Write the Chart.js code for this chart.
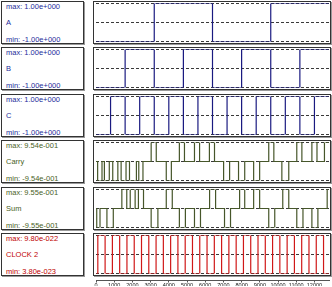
<!DOCTYPE html>
<html>
<head>
<meta charset="utf-8">
<script src="https://cdn.jsdelivr.net/npm/chart.js@4.4.0/dist/chart.umd.min.js"></script>
<style>
body{margin:0;background:#fff;width:332px;height:287px;overflow:hidden;position:relative;font-family:"Liberation Sans",Arial,sans-serif}
.lab{position:absolute;left:1px;width:81px;height:41px;border:1px solid #333;box-shadow:1px 1px 0 #999;background:#fff}
.lab span{position:absolute;left:4px;font-size:7.5px;line-height:8px;white-space:nowrap}
.box{position:absolute;left:93px;width:236px;height:41px;border:1px solid #333;box-shadow:1px 1px 0 #999;background:#fff}
canvas{position:absolute}
</style>
</head>
<body>
<script>
// panel text
const signalNames = ['A', 'B', 'C', 'Carry', 'Sum', 'CLOCK 2'];
const maxLabels = ['max: 1.00e+000', 'max: 1.00e+000', 'max: 1.00e+000', 'max: 9.54e-001', 'max: 9.55e-001', 'max: 9.80e-022'];
const minLabels = ['min: -1.00e+000', 'min: -1.00e+000', 'min: -1.00e+000', 'min: -9.54e-001', 'min: -9.55e-001', 'min: 3.80e-023'];
const panelMax = [1, 1, 1, 0.954, 0.955, 9.8e-22];
const panelMin = [-1, -1, -1, -0.954, -0.955, 3.8e-23];
const textColors = ['#1c2c9a', '#1c2c9a', '#1c2c9a', '#4a6226', '#4a6226', '#c00000'];
const lineColors = ['#1a1a80', '#1a1a80', '#1a1a80', '#46562a', '#46562a', '#d01818'];
const panelTops = [1, 47, 94, 140, 187, 233];

// time axis
const timeMax = 12800;
const tickValues = [0, 1000, 2000, 3000, 4000, 5000, 6000, 7000, 8000, 9000, 10000, 11000, 12000];

// signals: edge times and the level after each edge
const aTimes = [0, 3200, 6400, 9600, 12800];
const aLevels = [-1, 1, -1, 1, 1];

const bTimes = [0, 1600, 3200, 4800, 6400, 8000, 9600, 11200, 12800];
const bLevels = [-1, 1, -1, 1, -1, 1, -1, 1, 1];

const cTimes = [0, 800, 1600, 2400, 3200, 4000, 4800, 5600, 6400, 7200, 8000, 8800, 9600, 10400, 11200, 12000, 12800];
const cLevels = [-1, 1, -1, 1, -1, 1, -1, 1, -1, 1, -1, 1, -1, 1, -1, 1, 1];

const carryTimes = [0, 90, 330, 460, 730, 920, 1200, 1380, 1650, 1840, 2220, 2350, 2580,
  3030, 3310, 3860, 4140, 4580, 4860, 5410, 5690, 6230, 6510,
  7010, 7340, 7830, 8170, 8660, 8990, 9490, 9770, 10210, 10590,
  11030, 11310, 11860, 12140, 12550, 12800];
const carryLevels = [0, -0.954, 0, -0.954, 0, -0.954, 0, -0.954, 0, -0.954, 0, -0.954, 0,
  0.954, 0, -0.954, 0, 0.954, 0, 0.954, 0, 0.954, 0,
  -0.954, 0, -0.954, 0, -0.954, 0, 0.954, 0, -0.954, 0,
  0.954, 0, 0.954, 0, 0.954, 0.954];

const sumTimes = [0, 40, 220, 600, 950, 1420, 1690, 1880, 2150, 2330, 2610,
  3030, 3400, 3860, 4190, 4580, 4910, 5410, 5740, 6240, 6570, 7060, 7390,
  7890, 8170, 8660, 8990, 9490, 9820, 10260, 10590, 11030, 11370, 11860, 12190, 12700, 12800];
const sumLevels = [0, -0.955, 0, -0.955, 0, 0.955, 0, 0.955, 0, 0.955, 0,
  -0.955, 0, 0.955, 0, -0.955, 0, -0.955, 0, 0.955, 0, -0.955, 0,
  0.955, 0, 0.955, 0, -0.955, 0, 0.955, 0, -0.955, 0, -0.955, 0, 0.955, 0.955];

const clockTimes = [0, 100, 500, 900, 1300, 1700, 2100, 2500, 2900, 3300, 3700, 4100, 4500,
  4900, 5300, 5700, 6100, 6500, 6900, 7300, 7700, 8100, 8500, 8900, 9300,
  9700, 10100, 10500, 10900, 11300, 11700, 12100, 12500, 12800];
const clockLevels = [3.8e-23, 9.8e-22, 3.8e-23, 9.8e-22, 3.8e-23, 9.8e-22, 3.8e-23, 9.8e-22, 3.8e-23, 9.8e-22, 3.8e-23, 9.8e-22, 3.8e-23,
  9.8e-22, 3.8e-23, 9.8e-22, 3.8e-23, 9.8e-22, 3.8e-23, 9.8e-22, 3.8e-23, 9.8e-22, 3.8e-23, 9.8e-22, 3.8e-23,
  9.8e-22, 3.8e-23, 9.8e-22, 3.8e-23, 9.8e-22, 3.8e-23, 9.8e-22, 3.8e-23, 3.8e-23];

const allTimes = [aTimes, bTimes, cTimes, carryTimes, sumTimes, clockTimes];
const allLevels = [aLevels, bLevels, cLevels, carryLevels, sumLevels, clockLevels];

function addEl(tag, cls, css) {
  const el = document.createElement(tag);
  if (cls) el.className = cls;
  Object.assign(el.style, css || {});
  document.body.appendChild(el);
  return el;
}

signalNames.forEach(function(name, i) {
  const top = panelTops[i];
  // label box
  const lab = addEl('div', 'lab', {top: top + 'px'});
  [[maxLabels[i], 1], [name, 17], [minLabels[i], 34]].forEach(function(t) {
    const s = document.createElement('span');
    s.textContent = t[0];
    s.style.top = t[1] + 'px';
    s.style.color = textColors[i];
    lab.appendChild(s);
  });
  // waveform box
  addEl('div', 'box', {top: top + 'px'});
  const cv = addEl('canvas', null, {left: '93px', top: top + 'px'});
  cv.width = 238; cv.height = 43;

  const lo = panelMin[i], hi = panelMax[i];
  new Chart(cv.getContext('2d'), {
    type: 'line',
    data: {
      datasets: [{
        data: allTimes[i].map((t, j) => ({x: t, y: allLevels[i][j]})),
        borderColor: lineColors[i],
        borderWidth: 1.2,
        pointRadius: 0,
        stepped: true,
        fill: false,
      }]
    },
    options: {
      responsive: false,
      animation: false,
      events: [],
      layout: {padding: {left: 3, right: 2, top: 2.5, bottom: 2.5}},
      plugins: {legend: {display: false}, tooltip: {enabled: false}},
      scales: {
        x: {type: 'linear', min: 0, max: timeMax, display: false},
        y: {
          min: lo, max: hi,
          afterBuildTicks: s => { s.ticks = [{value: lo}, {value: (lo + hi) / 2}, {value: hi}]; },
          afterFit: s => { s.width = 0; },
          ticks: {display: false},
          grid: {color: '#3a3a3a', lineWidth: 1, drawTicks: false},
          border: {display: false, dash: [3, 2]},
        },
      },
    }
  });
});

// time axis under the last panel
const ax = addEl('canvas', null, {left: '93px', top: '275px'});
ax.width = 238; ax.height = 11;
new Chart(ax.getContext('2d'), {
  type: 'line',
  data: {datasets: []},
  options: {
    responsive: false,
    animation: false,
    events: [],
    layout: {padding: {left: 3, right: 2, top: 0, bottom: 0}},
    plugins: {legend: {display: false}, tooltip: {enabled: false}},
    scales: {
      x: {
        type: 'linear', min: 0, max: timeMax,
        afterBuildTicks: s => { s.ticks = tickValues.map(v => ({value: v})); },
        ticks: {autoSkip: false, maxRotation: 0, padding: 0, color: '#111',
          callback: v => String(v),
          font: {size: 5.5, family: 'Liberation Sans'}},
        grid: {drawOnChartArea: false, tickLength: 2, color: '#555'},
        border: {display: true, color: '#555'},
      },
      y: {display: false, min: 0, max: 1},
    },
  }
});
</script>
</body>
</html>
